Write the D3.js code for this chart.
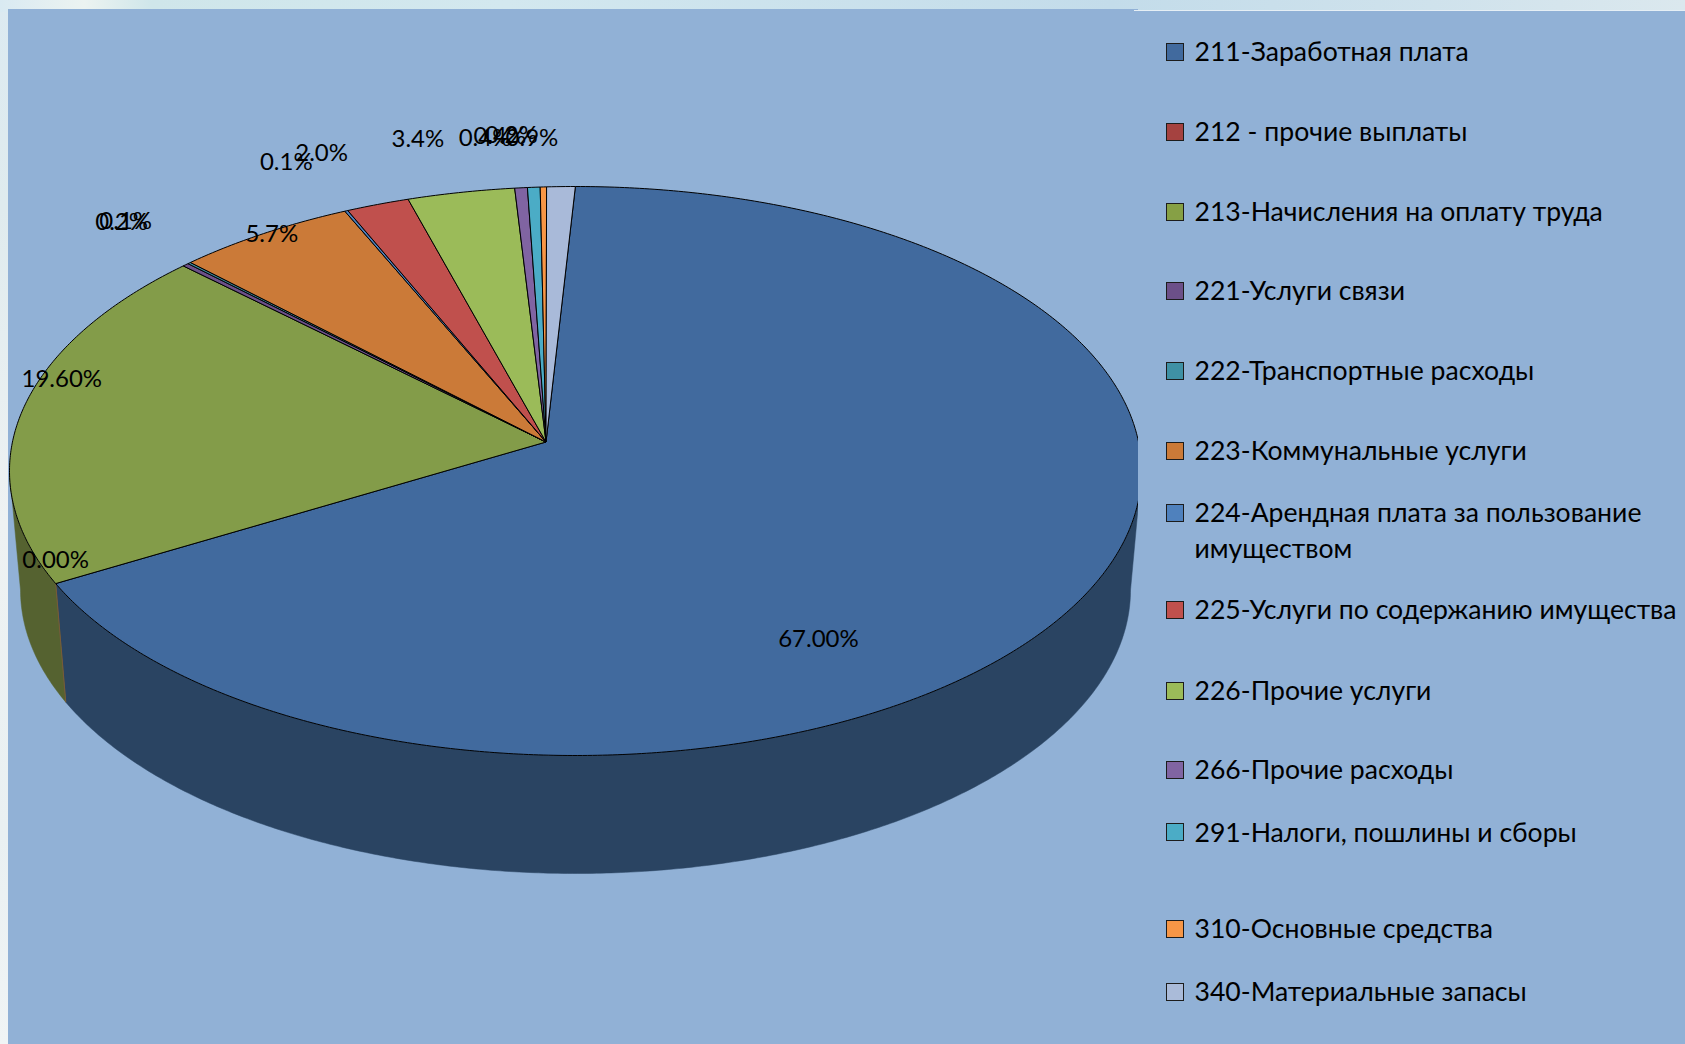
<!DOCTYPE html>
<html lang="ru"><head><meta charset="utf-8">
<style>html,body{margin:0;padding:0;background:#dfeaf0;overflow:hidden}svg{display:block}
text{font-family:Lato,"Open Sans",sans-serif;fill:#000}</style>
<script src="https://cdnjs.cloudflare.com/ajax/libs/d3/7.8.5/d3.min.js"></script>
</head><body><svg id="c" width="1685" height="1044"></svg>
<script>
const categories=["211-Заработная плата","212 - прочие выплаты","213-Начисления на оплату труда","221-Услуги связи","222-Транспортные расходы","223-Коммунальные услуги","224-Арендная плата за пользование имуществом","225-Услуги по содержанию имущества","226-Прочие услуги","266-Прочие расходы","291-Налоги, пошлины и сборы","310-Основные средства","340-Материальные запасы"];
const values=[67.0,0,19.6,0.2,0.1,5.7,0.1,2.0,3.4,0.4,0.4,0.2,0.9];
const valueLabels=["67.00%","0.00%","19.60%","0.2%","0.1%","5.7%","0.1%","2.0%","3.4%","0.4%","0.4%","0.2%","0.9%"];
const sliceColors=["#416a9e","#a54240","#839c49","#6c5089","#3f91a5","#cb7a38","#4f81bd","#c0504d","#9bbb59","#8064a2","#4bacc6","#f79646","#a9bad9"];
const swatchColors=["#416a9e","#a54240","#86a045","#6c5089","#3f91a5","#cb7a38","#4f81bd","#c0504d","#9bbb59","#8064a2","#4bacc6","#f79646","#aabbd9"];

// layout only
const W=1685,H=1044;
const top3d={cx:575.5,cy:471,rx:566,ry:284.5}, bot3d={cx:575.5,cy:590,rx:555,ry:283.5};
const apex=[546,442], clipRight=1138;
const legendY=[51.6,131.7,212,290.7,370.7,450.7,513,609.7,690.5,769.7,832.2,929,991.7];
const labelOffset=[[-265,42],[0,-24],[39,-31],[-64,-43],[-63.5,-42],[8,0],[-60,-49],[-56,-52],[-43,-54],[-36,-50],[-34,-52],[-32,-52],[-29,-49]];
const rad=Math.PI/180;

const svg=d3.select("#c");
const defs=svg.append("defs");
const topGrad=defs.append("linearGradient").attr("id","topBand");
[[0,"#d9eaf2"],[.05,"#ecf3f1"],[.09,"#cfe6ea"],[.3,"#d3e8ef"],[.66,"#c3dcea"],[.85,"#cfe2ec"],[1,"#dbe8ee"]].forEach(s=>topGrad.append("stop").attr("offset",s[0]).attr("stop-color",s[1]));
const leftGrad=defs.append("linearGradient").attr("id","leftBand").attr("x2",0).attr("y2",1);
[[0,"#dceaf1"],[.2,"#dfebee"],[.5,"#eef2f3"],[.8,"#e9f0f2"],[1,"#f0f4f5"]].forEach(s=>leftGrad.append("stop").attr("offset",s[0]).attr("stop-color",s[1]));
defs.append("clipPath").attr("id","plot").append("rect").attr("x",0).attr("y",0).attr("width",clipRight).attr("height",H);

svg.append("rect").attr("width",W).attr("height",H).attr("fill","url(#leftBand)");
svg.append("rect").attr("width",W).attr("height",12).attr("fill","url(#topBand)");
svg.append("rect").attr("x",8).attr("y",9).attr("width",1130).attr("height",H-9).attr("fill","#91b1d6");
svg.append("rect").attr("x",1134).attr("y",10).attr("width",W-1134).attr("height",1).attr("fill","#e6eff5");
svg.append("rect").attr("x",1134).attr("y",11).attr("width",W-1134).attr("height",H-11).attr("fill","#91b1d6");

// perspective warp of the pie angle onto the drawn ellipse
const warp=t=>t-0.1*Math.sin(t-357*rad);
const pt=(e,p)=>[e.cx+e.rx*Math.sin(p),e.cy-e.ry*Math.cos(p)];
const pie=d3.pie().sort(null).startAngle(0.32*rad).endAngle((360+0.32)*rad);
const arcs=pie(values);

const chart=svg.append("g").attr("clip-path","url(#plot)");
const line=d3.line();
function arcPts(e,a0,a1){const n=Math.max(2,Math.ceil((a1-a0)/(0.5*rad)));
  return d3.range(n+1).map(i=>pt(e,a0+(a1-a0)*i/n));}

// side walls, only the front half (90..270deg of the ellipse)
arcs.forEach((d,i)=>{
  const a0=Math.max(warp(d.startAngle),90*rad), a1=Math.min(warp(d.endAngle),270*rad);
  if(a1<=a0) return;
  const pts=arcPts(top3d,a0,a1).concat(arcPts(bot3d,a0,a1).reverse());
  chart.append("path").attr("d",line(pts)+"Z").attr("fill",i===0?"#2a4462":"#556230").attr("stroke",i===0?"#2a4462":"#556230").attr("stroke-width",.5);
});
// zero-value slice leaves only a seam on the wall
arcs.filter(d=>d.value===0).forEach(d=>{const a=warp(d.startAngle);
  chart.append("path").attr("d",line([pt(top3d,a),pt(bot3d,a)])).attr("stroke","#7a5a38").attr("stroke-width",1).attr("fill","none");});
// top faces
arcs.forEach((d,i)=>{
  if(d.value===0) return;
  const pts=[apex].concat(arcPts(top3d,warp(d.startAngle),warp(d.endAngle)));
  chart.append("path").attr("d",line(pts)+"Z").attr("fill",sliceColors[i]).attr("stroke","#000").attr("stroke-width",1).attr("stroke-linejoin","round");
});
// value labels
const labels=svg.append("g").attr("font-size",24).attr("text-anchor","middle");
arcs.forEach((d,i)=>{
  const p=pt(top3d,warp((d.startAngle+d.endAngle)/2));
  labels.append("text").attr("x",p[0]+labelOffset[i][0]).attr("y",p[1]+labelOffset[i][1]).attr("dy","0.35em").text(valueLabels[i]);
});
// legend
const legend=svg.append("g");
categories.forEach((c,i)=>{
  legend.append("rect").attr("x",1166.5).attr("y",Math.round(legendY[i]-9)+.5).attr("width",17).attr("height",17).attr("fill",swatchColors[i]).attr("stroke","#1c1c1c").attr("stroke-width",1);
  const t=legend.append("text").attr("x",1194.5).attr("y",legendY[i]).attr("dy","0.35em").attr("font-size",26.6);
  if(c.length>40){const cut=c.lastIndexOf(" ");
    t.text(c.slice(0,cut));
    legend.append("text").attr("x",1194.5).attr("y",legendY[i]+35.5).attr("dy","0.35em").attr("font-size",26.6).text(c.slice(cut+1));
  } else t.text(c);
});
</script></body></html>
